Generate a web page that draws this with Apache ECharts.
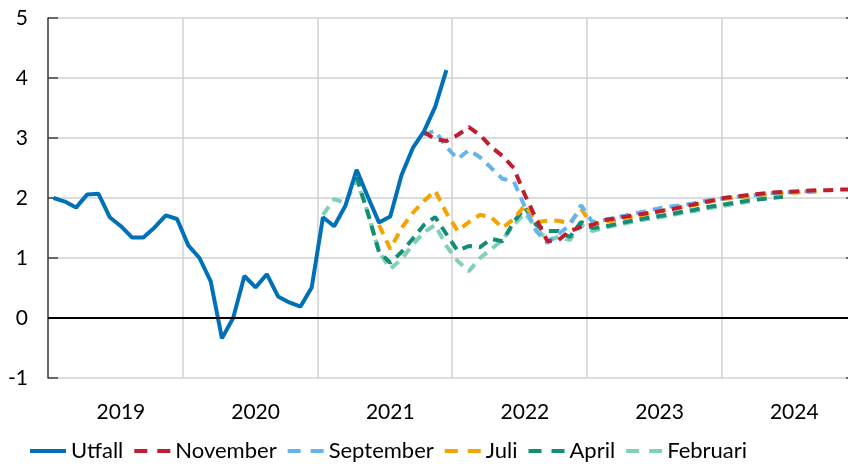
<!DOCTYPE html>
<html>
<head>
<meta charset="utf-8">
<script src="https://cdn.jsdelivr.net/npm/echarts@6/dist/echarts.min.js"></script>
<style>
  html, body { margin: 0; padding: 0; background: #fff; }
  #chart { width: 848px; height: 464px; }
</style>
</head>
<body>
<div id="chart"></div>
<script>
// monthly categories jan 2019 - dec 2024
var years = ['2019', '2020', '2021', '2022', '2023', '2024'];
var months = [];
years.forEach(function (y) {
  for (var m = 1; m <= 12; m++) months.push(y + '-' + (m < 10 ? '0' + m : m));
});

// outcome, starts jan 2019
var utfall = [2.0, 1.94, 1.84, 2.06, 2.07, 1.68, 1.53, 1.34, 1.34, 1.51, 1.71, 1.65,
  1.21, 1.0, 0.61, -0.34, 0.0, 0.70, 0.51, 0.73, 0.36, 0.26, 0.19, 0.51,
  1.68, 1.53, 1.87, 2.47, 2.02, 1.59, 1.69, 2.38, 2.83, 3.11, 3.52, 4.13];

// forecasts, each with the month index where it starts
var novemberStart = 33;
var november = [3.1, 2.98, 2.95, 3.05, 3.18, 3.05, 2.85, 2.7, 2.5, 2.05, 1.65, 1.28,
  1.3, 1.45, 1.52, 1.55, 1.63, 1.66, 1.69, 1.72, 1.75, 1.78, 1.81, 1.85,
  1.89, 1.93, 1.97, 2.01, 2.03, 2.05, 2.07, 2.09, 2.1, 2.11, 2.12, 2.13, 2.13, 2.14, 2.14];

var septemberStart = 33;
var september = [3.05, 3.12, 2.85, 2.65, 2.8, 2.68, 2.5, 2.32, 2.28, 1.85, 1.45, 1.25,
  1.4, 1.55, 1.88, 1.6, 1.63, 1.67, 1.71, 1.75, 1.79, 1.83, 1.86, 1.88,
  1.91, 1.95, 1.98, 2.0, 2.02, 2.04, 2.06, 2.08, 2.09, 2.1, 2.11, 2.12];

var juliStart = 29;
var juli = [1.55, 1.15, 1.5, 1.75, 1.95, 2.12, 1.75, 1.45, 1.6, 1.72, 1.68, 1.5,
  1.65, 1.88, 1.6, 1.62, 1.62, 1.58, 1.82, 1.55, 1.6, 1.63, 1.67, 1.7,
  1.74, 1.78, 1.82, 1.85, 1.88, 1.92, 1.96, 1.99, 2.01, 2.03, 2.05, 2.07,
  2.08, 2.09, 2.1, 2.11];

var aprilStart = 27;
var april = [2.35, 1.75, 1.1, 0.92, 1.1, 1.32, 1.55, 1.68, 1.4, 1.12, 1.2, 1.18,
  1.32, 1.28, 1.6, 1.84, 1.55, 1.45, 1.45, 1.35, 1.6, 1.5, 1.52, 1.56,
  1.6, 1.64, 1.67, 1.7, 1.73, 1.77, 1.8, 1.84, 1.87, 1.9, 1.93, 1.96,
  1.98, 2.0, 2.02];

var februariStart = 24;
var februari = [1.72, 1.98, 1.92, 2.3, 1.75, 1.1, 0.82, 0.98, 1.22, 1.43, 1.55, 1.2,
  0.95, 0.78, 1.0, 1.15, 1.3, 1.55, 1.75, 1.5, 1.3, 1.35, 1.3, 1.55,
  1.45, 1.5, 1.54, 1.58, 1.62, 1.65, 1.68, 1.71, 1.75, 1.78, 1.82, 1.85,
  1.88, 1.91, 1.94];

function place(start, vals) {
  var out = [];
  for (var i = 0; i < start; i++) out.push(null);
  return out.concat(vals);
}

var font = 'Lato';
var solidIcon = 'path://M0,0H36V4H0Z';
var dashIcon = 'path://M0,0H13V4H0Z M23,0H36V4H23Z';

function dashed(name, start, vals, color) {
  return {
    name: name,
    type: 'line',
    data: place(start, vals),
    showSymbol: false,
    symbol: 'none',
    lineStyle: { color: color, width: 4, type: [10, 7] },
    itemStyle: { color: color }
  };
}

var chart = echarts.init(document.getElementById('chart'));
chart.setOption({
  animation: false,
  textStyle: { fontFamily: font },
  grid: { left: 48, width: 808, top: 18, bottom: 86, outerBoundsMode: 'none' },
  legend: {
    left: 25,
    top: 435,
    itemWidth: 36,
    itemHeight: 4,
    itemGap: 11,
    symbolKeepAspect: false,
    textStyle: { fontSize: 22, color: '#000', fontFamily: font },
    data: [
      { name: 'Utfall', icon: solidIcon },
      { name: 'November', icon: dashIcon },
      { name: 'September', icon: dashIcon },
      { name: 'Juli', icon: dashIcon },
      { name: 'April', icon: dashIcon },
      { name: 'Februari', icon: dashIcon }
    ]
  },
  xAxis: {
    type: 'category',
    data: months,
    boundaryGap: true,
    axisLine: { show: false },
    axisTick: { show: false },
    axisLabel: {
      interval: function (i) { return i % 12 === 6; },
      formatter: function (v) { return v.slice(0, 4); },
      fontSize: 21,
      color: '#000',
      margin: 24
    },
    splitLine: {
      show: true,
      interval: function (i) { return i % 12 === 0; },
      lineStyle: { color: '#d0d0d0', width: 1.5 }
    }
  },
  yAxis: [{
    type: 'value',
    min: -1,
    max: 5,
    interval: 1,
    axisLine: { show: true, lineStyle: { color: '#404040', width: 1.5 } },
    axisTick: { show: true, inside: true, length: 10, lineStyle: { color: '#404040', width: 1.5 } },
    axisLabel: { fontSize: 21, color: '#000', margin: 20 },
    splitLine: { lineStyle: { color: '#d0d0d0', width: 1.5 } }
  }, {
    type: 'value',
    position: 'right',
    min: -1,
    max: 5,
    interval: 1,
    axisLine: { show: true, lineStyle: { color: '#404040', width: 1.5 } },
    axisTick: { show: true, inside: true, length: 10, lineStyle: { color: '#404040', width: 1.5 } },
    axisLabel: { show: false },
    splitLine: { show: false }
  }],
  series: [
    dashed('Februari', februariStart, februari, '#7fd1b5'),
    dashed('April', aprilStart, april, '#138d76'),
    dashed('Juli', juliStart, juli, '#f5a300'),
    dashed('September', septemberStart, september, '#66b4ee'),
    dashed('November', novemberStart, november, '#be1e2d'),
    {
      name: 'Utfall',
      type: 'line',
      data: utfall,
      showSymbol: false,
      symbol: 'none',
      lineStyle: { color: '#0070b8', width: 4 },
      itemStyle: { color: '#0070b8' },
      markLine: {
        silent: true,
        symbol: 'none',
        label: { show: false },
        lineStyle: { color: '#000', width: 2, type: 'solid' },
        data: [{ yAxis: 0 }]
      }
    }
  ]
});
</script>
</body>
</html>
